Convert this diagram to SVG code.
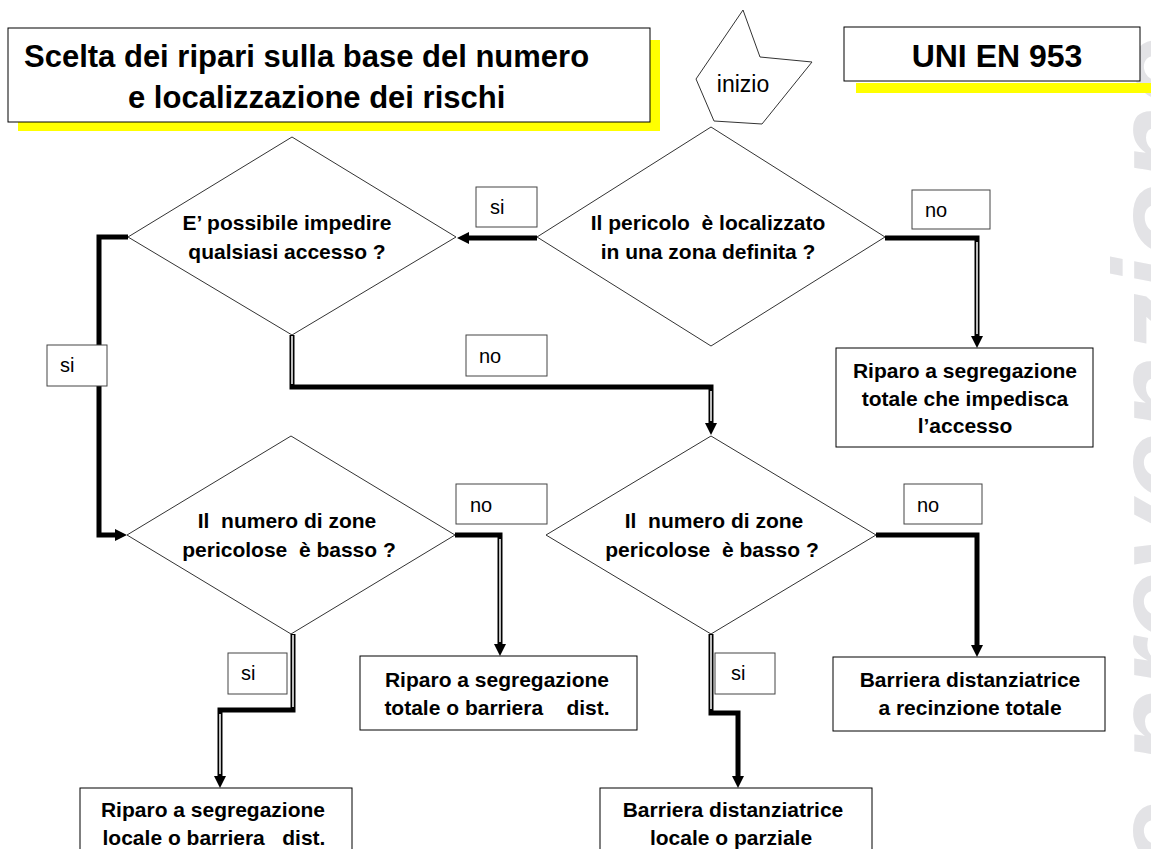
<svg xmlns="http://www.w3.org/2000/svg" width="1151" height="849" viewBox="0 0 1151 849">
<style>
.shape{fill:#fff;stroke:#000;stroke-width:1}
.dia{fill:none;stroke:#333;stroke-width:1}
.lbl{fill:#fff;stroke:#444;stroke-width:1}
.t{font-family:"Liberation Sans",Arial,sans-serif;font-weight:bold;font-size:21px;fill:#000;text-anchor:middle;white-space:pre}
.l{font-family:"Liberation Sans",Arial,sans-serif;font-size:20px;fill:#000;white-space:pre}
.big{font-family:"Liberation Sans",Arial,sans-serif;font-weight:bold;font-size:31px;fill:#000}
.wm{font-family:"Liberation Sans",Arial,sans-serif;font-weight:bold;font-style:italic;font-size:125px;fill:#e3e3e6}
.c{fill:none;stroke:#000;stroke-width:5;stroke-linejoin:miter}
.h{fill:none;stroke:#fff;stroke-width:1.5}
</style>
<defs>
<marker id="ah" markerUnits="userSpaceOnUse" markerWidth="14" markerHeight="12" refX="2" refY="6" orient="auto">
<path d="M0,0 L12,6 L0,12 z" fill="#000"/>
</marker>
</defs>
<rect width="1151" height="849" fill="#fff"/>

<text class="wm" transform="translate(1200,870) rotate(-90)">e prevenzione</text>

<g id="title">
<rect x="18" y="40" width="642" height="91" fill="#ffff00"/>
<rect x="8" y="28" width="642" height="94" class="shape"/>
<text class="big" x="24" y="67">Scelta dei ripari sulla base del numero</text>
<text class="big" x="128" y="108">e localizzazione dei rischi</text>
</g>

<g id="inizio">
<polygon points="743,10 760,57 812,62 762,124 714,121 696,79" class="dia"/>
<text class="l" x="743" y="92" text-anchor="middle" style="font-size:23px">inizio</text>
</g>

<g id="norma">
<rect x="856" y="83" width="295" height="10" fill="#ffff00"/>
<rect x="844" y="27" width="296" height="54" class="shape"/>
<text class="big" x="997" y="67" text-anchor="middle" style="font-size:32px">UNI EN 953</text>
</g>

<g id="d1">
<polygon points="711,127 885,237 711,346 537,237" class="dia"/>
<text class="t" x="708" y="230">Il pericolo  è localizzato</text>
<text class="t" x="708" y="259">in una zona definita ?</text>
</g>

<g id="d2">
<polygon points="292,137 456,237 292,335 128,237" class="dia"/>
<text class="t" x="287" y="230">E’ possibile impedire</text>
<text class="t" x="287" y="259">qualsiasi accesso ?</text>
</g>

<g id="d3">
<polygon points="291,436 455,535 291,634 127,535" class="dia"/>
<text class="t" x="287" y="528">Il  numero di zone</text>
<text class="t" x="289" y="557">pericolose  è basso ?</text>
</g>

<g id="d4">
<polygon points="711,436 876,535 711,634 546,535" class="dia"/>
<text class="t" x="714" y="528">Il  numero di zone</text>
<text class="t" x="712" y="557">pericolose  è basso ?</text>
</g>

<g id="connectors">
<path class="c" d="M537,238 H467" marker-end="url(#ah)"/>
<path class="c" d="M885,238 H977 V338" marker-end="url(#ah)"/>
<path class="h" d="M977,242 V334"/>
<path class="c" d="M128,237 H99 V535 H117" marker-end="url(#ah)"/>
<path class="c" d="M292,335 V387 H711 V425" marker-end="url(#ah)"/>
<path class="h" d="M292,336 V384"/>
<path class="h" d="M711,391 V421"/>
<path class="c" d="M455,535 H500 V646" marker-end="url(#ah)"/>
<path class="h" d="M500,539 V642"/>
<path class="c" d="M293,634 V710 H220 V778" marker-end="url(#ah)"/>
<path class="h" d="M293,635 V707"/>
<path class="h" d="M220,714 V774"/>
<path class="c" d="M876,535 H977 V647" marker-end="url(#ah)"/>
<path class="c" d="M711,634 V713 H738 V778" marker-end="url(#ah)"/>
<path class="h" d="M711,635 V709"/>
</g>

<g id="lbl-si1"><rect x="476" y="187" width="61" height="40" class="lbl"/><text class="l" x="490" y="214">si</text></g>
<g id="lbl-no1"><rect x="912" y="190" width="78" height="39" class="lbl"/><text class="l" x="925" y="217">no</text></g>
<g id="lbl-si2"><rect x="47" y="345" width="60" height="41" class="lbl"/><text class="l" x="60" y="372">si</text></g>
<g id="lbl-no2"><rect x="466" y="335" width="81" height="41" class="lbl"/><text class="l" x="479" y="363">no</text></g>
<g id="lbl-no3"><rect x="456" y="484" width="91" height="40" class="lbl"/><text class="l" x="470" y="512">no</text></g>
<g id="lbl-no4"><rect x="904" y="484" width="78" height="40" class="lbl"/><text class="l" x="917" y="512">no</text></g>
<g id="lbl-si3"><rect x="228" y="653" width="59" height="41" class="lbl"/><text class="l" x="241" y="680">si</text></g>
<g id="lbl-si4"><rect x="715" y="653" width="60" height="41" class="lbl"/><text class="l" x="731" y="680">si</text></g>

<g id="r1">
<rect x="836" y="348" width="257" height="99" class="shape"/>
<text class="t" x="965" y="378">Riparo a segregazione</text>
<text class="t" x="965" y="406">totale che impedisca</text>
<text class="t" x="965" y="433">l’accesso</text>
</g>
<g id="r2">
<rect x="360" y="656" width="277" height="74" class="shape"/>
<text class="t" x="497" y="687">Riparo a segregazione</text>
<text class="t" x="497" y="715">totale o barriera    dist.</text>
</g>
<g id="r3">
<rect x="833" y="657" width="272" height="74" class="shape"/>
<text class="t" x="970" y="687">Barriera distanziatrice</text>
<text class="t" x="970" y="715">a recinzione totale</text>
</g>
<g id="r4">
<rect x="80" y="788" width="272" height="70" class="shape"/>
<text class="t" x="213" y="817">Riparo a segregazione</text>
<text class="t" x="214" y="845">locale o barriera   dist.</text>
</g>
<g id="r5">
<rect x="600" y="788" width="272" height="70" class="shape"/>
<text class="t" x="733" y="817">Barriera distanziatrice</text>
<text class="t" x="731" y="845">locale o parziale</text>
</g>
</svg>
